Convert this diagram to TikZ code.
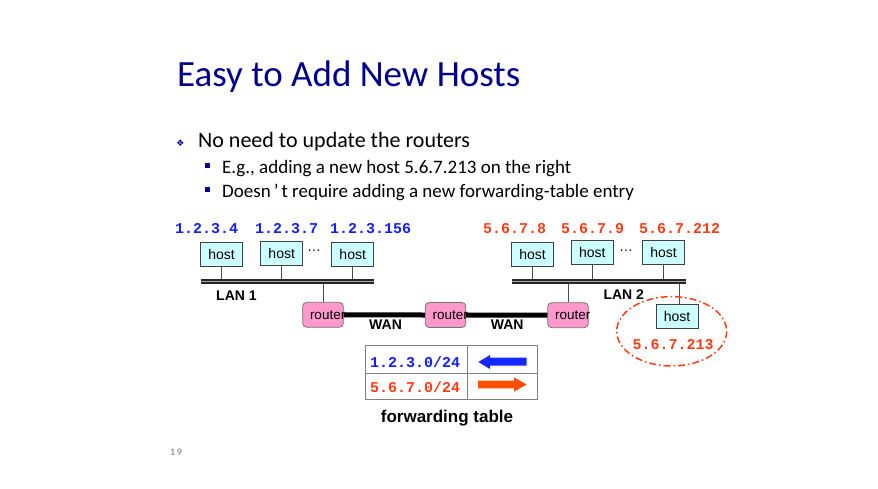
\documentclass[tikz,border=0pt]{standalone}
\usepackage{fontspec}
\setmainfont{Liberation Sans}
\newfontfamily\slidefont{Carlito}
\newfontfamily\ipfont{Liberation Mono}
\newfontfamily\symfont{DejaVu Sans}

\definecolor{titleblue}{RGB}{0,0,140}
\definecolor{bulletblue}{RGB}{0,0,160}
\definecolor{ipblue}{RGB}{20,30,255}
\definecolor{ipred}{RGB}{255,60,20}
\definecolor{hostfill}{RGB}{204,255,255}
\definecolor{routerfill}{RGB}{255,153,204}
\definecolor{arroworange}{RGB}{255,80,0}
\definecolor{arrowblue}{RGB}{20,40,255}

\begin{document}
\begin{tikzpicture}[x=1pt,y=-1pt,
  hostbox/.style={draw=black!75, line width=0.8pt, fill=hostfill,
    minimum width=42pt, minimum height=24pt, inner sep=0pt,
    font=\fontsize{14}{16}\selectfont},
  routerbox/.style={draw=black!55, line width=0.8pt, fill=routerfill,
    rounded corners=4pt, minimum width=40.6pt, minimum height=25pt,
    inner sep=0pt, font=\fontsize{13.5}{16}\selectfont},
  drop/.style={draw=black!70, line width=0.8pt},
  lanbar/.style={line width=5pt, draw=black!85},
  lanmid/.style={line width=1.2pt, draw=black!35},
  wan/.style={line width=5pt, draw=black},
  iplabel/.style={anchor=base west, inner sep=0pt,
    font=\ipfont\bfseries\fontsize{15}{16}\selectfont},
  bluelabel/.style={iplabel, text=ipblue},
  redlabel/.style={iplabel, text=ipred},
  netlabel/.style={anchor=base west, inner sep=0pt,
    font=\bfseries\fontsize{14}{16}\selectfont},
  dots/.style={inner sep=0pt, font=\fontsize{14}{16}\selectfont},
  subbullet/.style={fill=bulletblue, minimum size=5pt, inner sep=0pt},
  slidetext/.style={anchor=base west, inner sep=0pt, font=\slidefont\fontsize{19}{22}\selectfont},
  tableline/.style={draw=black!50, line width=0.8pt}
]
\fill[white] (0,0) rectangle (878,488);
\useasboundingbox (0,0) rectangle (878,488);

% title and bullet text
\node[anchor=base west, inner sep=0pt, text=titleblue,
  font=\slidefont\fontsize{37}{40}\selectfont] (title) at (177,86) {Easy to Add New Hosts};
\node[inner sep=0pt, text=bulletblue, font=\symfont\fontsize{9}{10}\selectfont] (b0) at (180.5,143) {❖};
\node[anchor=base west, inner sep=0pt, font=\slidefont\fontsize{22}{26}\selectfont] (l0) at (198,147) {No need to update the routers};
\node[subbullet] (b1) at (207.5,165.2) {};
\node[slidetext] (l1) at (222,173.3) {E.g., adding a new host 5.6.7.213 on the right};
\node[subbullet] (b2) at (207.5,189.2) {};
\node[slidetext] (l2) at (222,197.3) {Doesn\kern3pt’\kern3pt t require adding a new forwarding-table entry};

% address labels
\node[bluelabel] (a1) at (175,233) {1.2.3.4};
\node[bluelabel] (a2) at (255,233) {1.2.3.7};
\node[bluelabel] (a3) at (330,233) {1.2.3.156};
\node[redlabel] (a4) at (483,233) {5.6.7.8};
\node[redlabel] (a5) at (561,233) {5.6.7.9};
\node[redlabel] (a6) at (639,233) {5.6.7.212};

% hosts
\node[hostbox] (h1) at (221.5,254.5) {host};
\node[hostbox] (h2) at (281.7,253.3) {host};
\node[hostbox] (h3) at (352.7,254.5) {host};
\node[hostbox] (h4) at (532.5,254.5) {host};
\node[hostbox] (h5) at (592.3,252.8) {host};
\node[hostbox] (h6) at (663.5,252) {host};
\node[hostbox] (hn) at (677,316.3) {host};
\node[dots] (d1) at (314,251) {…};
\node[dots] (d2) at (626,251) {…};

% routers
\node[routerbox] (r1) at (323,314.8) {\makebox[26pt][l]{router}};
\node[routerbox] (r2) at (445.5,315) {\makebox[26pt][l]{router}};
\node[routerbox] (r3) at (568,315.2) {\makebox[26pt][l]{router}};

% LAN segments
\coordinate (lan1w) at (200.7,281.6);
\coordinate (lan1e) at (374.3,281.6);
\coordinate (lan2w) at (511.7,281.6);
\coordinate (lan2e) at (686,281.6);

\foreach \h in {h1,h2,h3}
  \draw[drop] (\h.south) -- (\h.south |- lan1w);
\draw[drop] (r1.north) -- (r1.north |- lan1w);
\foreach \h in {h4,h5,h6}
  \draw[drop] (\h.south) -- (\h.south |- lan2w);
\draw[drop] (r3.north) -- (r3.north |- lan2w);
\draw[drop] ([xshift=2.3pt]hn.north) -- ([xshift=2.3pt]hn.north |- lan2w);

\draw[lanbar] (lan1w) -- (lan1e);
\draw[lanmid] (lan1w) -- (lan1e);
\draw[lanbar] (lan2w) -- (lan2e);
\draw[lanmid] (lan2w) -- (lan2e);

\node[netlabel] (lan1) at (216,300) {LAN 1};
\node[netlabel] (lan2) at (603.3,299.3) {LAN 2};

% WAN links
\draw[wan] (r1.east) -- (r2.west);
\draw[wan] (r2.east) -- (r3.west);
\node[netlabel] (wan1) at (369,329.3) {WAN};
\node[netlabel] (wan2) at (490.7,329.3) {WAN};

% newly added host
\draw[ipred, line width=1.5pt, dash pattern=on 7pt off 3pt on 1.5pt off 3pt]
  (671.7,331.3) ellipse [x radius=55, y radius=34.7];
\node[redlabel] (an) at (632.3,349.3) {5.6.7.213};

% forwarding table
\draw[tableline] (365,345) rectangle (537,399.3);
\draw[tableline] (467.7,345) -- (467.7,399.3);
\draw[tableline] (365,373.3) -- (537,373.3);
\node[bluelabel] (t1) at (370,367.3) {1.2.3.0/24};
\node[redlabel] (t2) at (370,392.7) {5.6.7.0/24};
\fill[arrowblue] (478.3,362) -- (490,355) -- (490,357.7) -- (526.7,357.7)
  -- (526.7,365.5) -- (490,365.5) -- (490,369) -- cycle;
\fill[arroworange] (478,380.7) -- (514,380.7) -- (514,377.3) -- (526.7,384.5)
  -- (514,391.7) -- (514,388.3) -- (478,388.3) -- cycle;
\node[anchor=base west, inner sep=0pt, font=\bfseries\fontsize{17}{20}\selectfont]
  (ftab) at (380.7,422) {forwarding table};

% page number
\node[anchor=base west, inner sep=0pt, text=black!55, font=\slidefont\fontsize{10}{11}\selectfont]
  (pnum) at (170,455) {1\kern1.5pt 9};
\end{tikzpicture}
\end{document}
